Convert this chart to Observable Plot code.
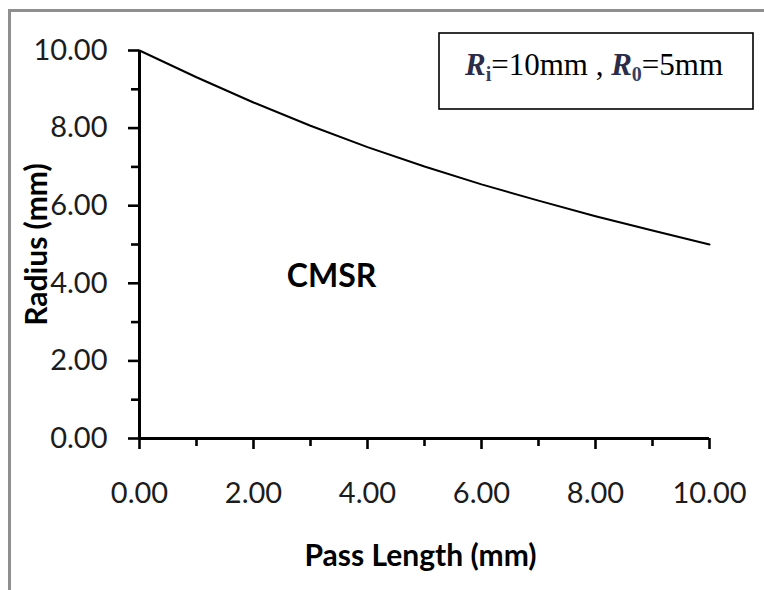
<!DOCTYPE html>
<html><head><meta charset="utf-8">
<script src="https://cdn.jsdelivr.net/npm/d3@7"></script>
<script src="https://cdn.jsdelivr.net/npm/@observablehq/plot@0.6"></script>
<style>
html,body{margin:0;padding:0;background:#fff;}
#wrap{position:relative;width:764px;height:590px;overflow:hidden;}
#chart{position:absolute;left:0;top:0;}
#border{position:absolute;left:8px;top:9px;right:-10px;bottom:-10px;border-left:3px solid #8f8f8f;border-top:3px solid #8f8f8f;pointer-events:none;}
</style></head><body>
<div id="wrap"><div id="chart"></div><div id="border"></div></div>
<script>
// Data
const passLength = [0, 1, 2, 3, 4, 5, 6, 7, 8, 9, 10];
const radius = [10.00, 9.31, 8.66, 8.06, 7.51, 7.01, 6.55, 6.13, 5.73, 5.36, 5.00];
const xTicks = [0, 2, 4, 6, 8, 10];
const yTicks = [0, 2, 4, 6, 8, 10];
const xMinorTicks = [1, 3, 5, 7, 9];
const yMinorTicks = [1, 3, 5, 7, 9];
const xTitle = "Pass Length (mm)";
const yTitle = "Radius (mm)";
const annotationLabels = ["CMSR"];
const annotationX = [3.37];
const annotationY = [4.18];
const legendSymbols = ["R", "R"];
const legendSubs = ["i", "0"];
const legendRest = ["=10mm , ", "=5mm"];

const data = passLength.map((x, i) => ({x, y: radius[i]}));
const annotations = annotationLabels.map((label, i) => ({label, x: annotationX[i], y: annotationY[i]}));
const fmt = d => d.toFixed(2);

function legendMark(index, scales, values, dims) {
  const g = d3.create("svg:g");
  const bx = dims.width - 325, by = 33, bw = 314, bh = 76;
  g.append("rect").attr("x", bx).attr("y", by).attr("width", bw).attr("height", bh)
    .attr("fill", "#fff").attr("stroke", "#000").attr("stroke-width", 1.6);
  const t = g.append("text")
    .attr("x", bx + bw / 2 - 2).attr("y", by + 42)
    .attr("text-anchor", "middle")
    .attr("font-family", "'Liberation Serif','Times New Roman',serif")
    .attr("font-size", 31).attr("fill", "#000");
  legendSymbols.forEach((s, i) => {
    t.append("tspan").attr("font-style", "italic").attr("font-weight", "bold").attr("fill", "#2a2c4a").text(s);
    t.append("tspan").attr("font-size", 20).attr("font-weight", "bold").attr("fill", "#3a3d60").attr("dy", 6).text(legendSubs[i]);
    t.append("tspan").attr("dy", -6).text(legendRest[i]);
  });
  return g.node();
}

const tickStyle = {stroke: "#000", strokeWidth: 2.6};

const chart = Plot.plot({
  width: 764, height: 590,
  marginLeft: 139, marginRight: 55, marginTop: 50, marginBottom: 152,
  style: {fontFamily: "Lato, 'Open Sans', sans-serif", background: "transparent", overflow: "visible"},
  x: {domain: [0, 10]},
  y: {domain: [0, 10]},
  marks: [
    // tick labels
    Plot.axisX({ticks: xTicks, tickSize: 0, tickPadding: 44, tickFormat: fmt, fontSize: 29, color: "#1c1c1c", label: null}),
    Plot.axisY({ticks: yTicks, tickSize: 0, tickPadding: 32, tickFormat: fmt, fontSize: 29, color: "#1c1c1c", label: null}),
    // tick marks (major and minor), drawn outward from the axis lines
    Plot.ruleX(xTicks, {x: d => d, y1: 0, y2: 0, insetBottom: -11, ...tickStyle}),
    Plot.ruleX(xMinorTicks, {x: d => d, y1: 0, y2: 0, insetBottom: -8, ...tickStyle}),
    Plot.ruleY(yTicks, {y: d => d, x1: 0, x2: 0, insetLeft: -11, ...tickStyle}),
    Plot.ruleY(yMinorTicks, {y: d => d, x1: 0, x2: 0, insetLeft: -8, ...tickStyle}),
    // axis lines
    Plot.ruleY([0], {stroke: "#000", strokeWidth: 3}),
    Plot.ruleX([0], {stroke: "#000", strokeWidth: 3}),
    Plot.line(data, {x: "x", y: "y", stroke: "#000", strokeWidth: 2}),
    Plot.text(annotations, {x: "x", y: "y", text: "label", fontWeight: "bold", fontSize: 32, fill: "#000"}),
    Plot.text([xTitle], {frameAnchor: "bottom", textAnchor: "middle", lineAnchor: "middle", dy: 118, dx: -4, fontWeight: "bold", fontSize: 30, fill: "#000"}),
    Plot.text([yTitle], {frameAnchor: "left", textAnchor: "middle", lineAnchor: "middle", dx: -102, rotate: -90, fontWeight: "bold", fontSize: 30, fill: "#000"}),
    legendMark
  ]
});
document.getElementById("chart").appendChild(chart);
</script>
</body></html>
